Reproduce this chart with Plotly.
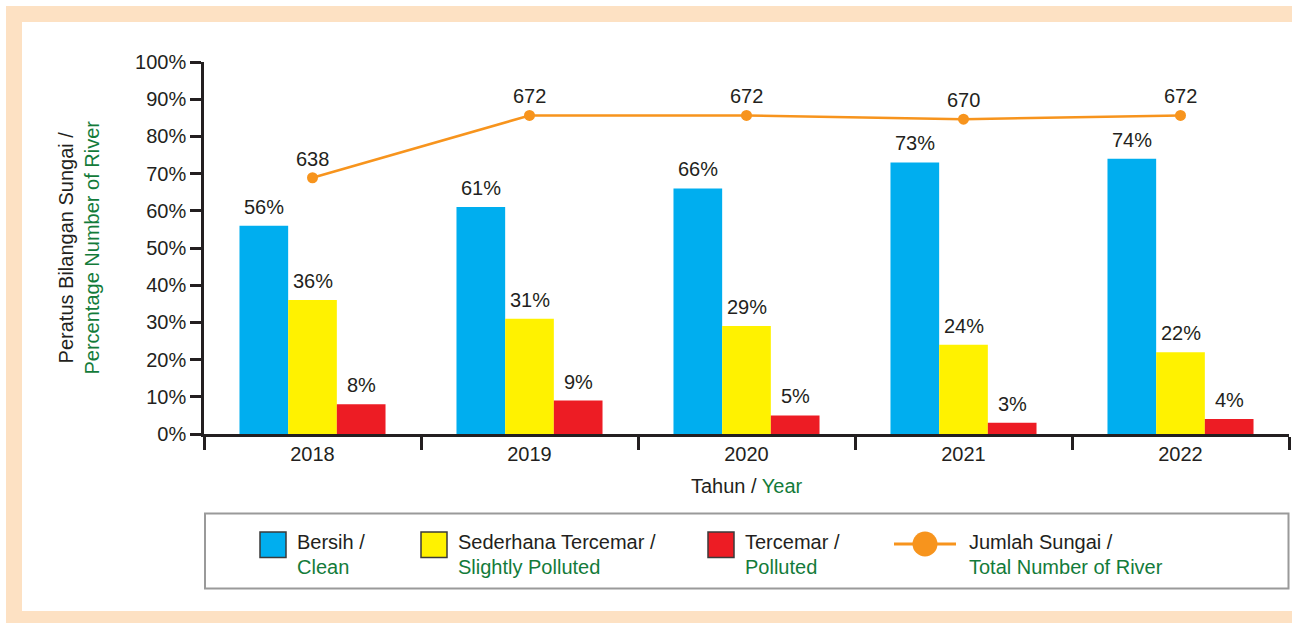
import plotly.graph_objects as go

# ---------------- data ----------------
years = ["2018", "2019", "2020", "2021", "2022"]
clean = [56, 61, 66, 73, 74]
slightly_polluted = [36, 31, 29, 24, 22]
polluted = [8, 9, 5, 3, 4]
total_rivers = [638, 672, 672, 670, 672]
y_tick_values = [0, 10, 20, 30, 40, 50, 60, 70, 80, 90, 100]
y_tick_labels = ["0%", "10%", "20%", "30%", "40%", "50%", "60%", "70%", "80%", "90%", "100%"]
legend_ms = ["Bersih /", "Sederhana Tercemar /", "Tercemar /", "Jumlah Sungai /"]
legend_en = ["Clean", "Slightly Polluted", "Polluted", "Total Number of River"]

# ---------------- style ----------------
W, H = 1292, 623
L, R, T, B = 204, 3, 62, 189
PW, PH = W - L - R, H - T - B
FONT = "Liberation Sans, Arial, Helvetica, sans-serif"
DARK = "#231F20"
GREEN = "#137B3A"
BLUE = "#00AEEF"
YELLOW = "#FFF200"
RED = "#ED1C24"
ORANGE = "#F7941D"
PEACH = "#FDE1C3"
FS = 20
BARGAP = 0.327


def px(x):
    return (x - L) / PW


def py(y):
    return (H - B - y) / PH


fig = go.Figure()
series = [(clean, BLUE), (slightly_polluted, YELLOW), (polluted, RED)]
for vals, col in series:
    fig.add_trace(go.Bar(x=years, y=vals, marker=dict(color=col, line=dict(width=0)),
                         hoverinfo="skip", showlegend=False))

fig.add_trace(go.Scatter(x=years, y=total_rivers, yaxis="y2", mode="lines+markers",
                         line=dict(color=ORANGE, width=2.5),
                         marker=dict(color=ORANGE, size=11),
                         hoverinfo="skip", showlegend=False))

annotations = []
bw = PW / len(years) * (1 - BARGAP) / 3
for i, (vals, col) in enumerate(series):
    for j, v in enumerate(vals):
        annotations.append(dict(x=j, y=v, xref="x", yref="y", text=f"{v}%",
                                showarrow=False, xshift=(i - 1) * bw, yshift=19,
                                yanchor="middle", font=dict(size=FS, color=DARK, family=FONT)))
for j, v in enumerate(total_rivers):
    annotations.append(dict(x=j, y=v, xref="x", yref="y2", text=str(v),
                            showarrow=False, yshift=19, yanchor="middle",
                            font=dict(size=FS, color=DARK, family=FONT)))

# axis titles
annotations.append(dict(x=px(78.5), y=py(248), xref="paper", yref="paper", textangle=-90,
                        text=f"Peratus Bilangan Sungai /<br><span style='color:{GREEN}'>Percentage Number of River</span>",
                        showarrow=False, xanchor="center", yanchor="middle",
                        font=dict(size=FS, color=DARK, family=FONT)))
annotations.append(dict(x=px(747), y=py(486), xref="paper", yref="paper",
                        text=f"Tahun / <span style='color:{GREEN}'>Year</span>",
                        showarrow=False, xanchor="center", yanchor="middle",
                        font=dict(size=FS, color=DARK, family=FONT)))

shapes = [
    dict(type="rect", xref="paper", yref="paper", x0=px(6), x1=px(W + 10), y0=py(H + 10), y1=py(6),
         fillcolor=PEACH, line=dict(width=0), layer="below"),
    dict(type="rect", xref="paper", yref="paper", x0=px(22), x1=px(W + 10), y0=py(611), y1=py(22),
         fillcolor="white", line=dict(width=0), layer="below"),
    # legend box
    dict(type="rect", xref="paper", yref="paper", x0=px(205), x1=px(1288.5), y0=py(588.5), y1=py(513.5),
         fillcolor="white", line=dict(color="#9A9A9A", width=2), layer="above"),
]

sw_x = [260, 421, 708]
txt_x = [295, 456, 742.5, 967]
for (vals, col), x0 in zip(series, sw_x):
    shapes.append(dict(type="rect", xref="paper", yref="paper", x0=px(x0), x1=px(x0 + 26),
                       y0=py(557.5), y1=py(532), fillcolor=col,
                       line=dict(color="#3A3A3A", width=1.5), layer="above"))
shapes.append(dict(type="line", xref="paper", yref="paper", x0=px(894), x1=px(956),
                   y0=py(544), y1=py(544), line=dict(color=ORANGE, width=3), layer="above"))
shapes.append(dict(type="circle", xref="paper", yref="paper", x0=px(912.5), x1=px(937.5),
                   y0=py(556.5), y1=py(531.5), fillcolor=ORANGE, line=dict(width=0), layer="above"))
for ms, en, x0 in zip(legend_ms, legend_en, txt_x):
    annotations.append(dict(x=px(x0), y=py(542), xref="paper", yref="paper", text=ms,
                            showarrow=False, xanchor="left", yanchor="middle",
                            font=dict(size=FS, color=DARK, family=FONT)))
    annotations.append(dict(x=px(x0), y=py(567), xref="paper", yref="paper", text=en,
                            showarrow=False, xanchor="left", yanchor="middle",
                            font=dict(size=FS, color=GREEN, family=FONT)))

fig.update_layout(
    width=W, height=H,
    margin=dict(l=L, r=R, t=T, b=B, pad=0),
    paper_bgcolor="white", plot_bgcolor="white",
    barmode="group", bargap=BARGAP, bargroupgap=0,
    font=dict(family=FONT, size=FS, color=DARK),
    showlegend=False,
    xaxis=dict(type="category", range=[-0.5, len(years) - 0.5], tickson="boundaries",
               ticks="outside", ticklen=13, tickwidth=2.5,
               tickcolor=DARK, showline=True, linecolor=DARK, linewidth=2.5,
               showgrid=False, zeroline=False, tickangle=0,
               tickfont=dict(size=FS, color=DARK, family=FONT)),
    yaxis=dict(range=[0, 100], tickvals=y_tick_values, ticktext=y_tick_labels,
               ticks="outside", ticklen=11, tickwidth=2.5, tickcolor=DARK,
               showline=True, linecolor=DARK, linewidth=2.5, showgrid=False, zeroline=False,
               tickfont=dict(size=FS, color=DARK, family=FONT)),
    yaxis2=dict(overlaying="y", range=[498.1, 701.2], visible=False),
    annotations=annotations,
    shapes=shapes,
)

fig.write_html("out.html", config={"displayModeBar": False},
               post_script="document.body.style.margin='0';document.body.style.overflow='hidden';")
